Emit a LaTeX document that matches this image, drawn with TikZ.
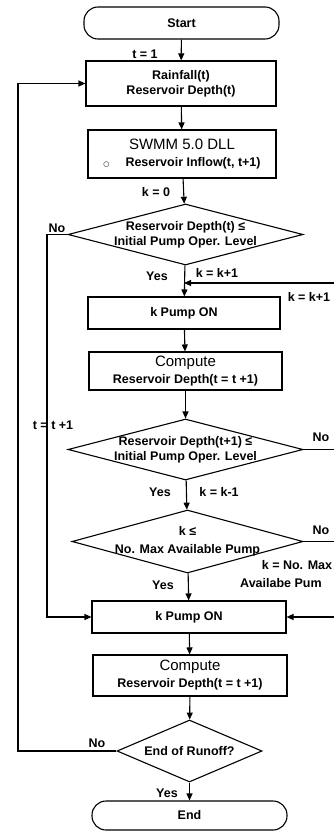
\documentclass[tikz,border=0pt]{standalone}
\usepackage{fontspec}
\setmainfont{Liberation Sans}
\newfontfamily\symfont{DejaVu Sans}
\usetikzlibrary{shapes.geometric,arrows.meta}
\newcommand\smtxt{\fontsize{12.5}{15}\selectfont\bfseries}
\newcommand\lgtxt{\fontsize{15}{18}\selectfont\mdseries}
\tikzset{
  ln/.style={line width=1.1pt},
  arr/.style={ln, -{Triangle[length=7pt,width=6pt]}},
  proc/.style={draw, line width=1.1pt, rectangle, inner sep=0pt, align=center, font=\smtxt},
  term/.style={proc, rounded corners=14pt},
  dec/.style={draw, line width=1.1pt, diamond, inner sep=0pt},
  txt/.style={align=center, font=\smtxt, inner sep=0pt},
  lbl/.style={font=\smtxt, inner sep=0pt},
}
\begin{document}
\begin{tikzpicture}[x=1pt,y=-1pt]
\useasboundingbox (0,0) rectangle (334,832);
% main column
\node[term, minimum width=195pt, minimum height=32pt] (start) at (181.5,23) {Start};
\node[proc, minimum width=190pt, minimum height=45pt] (rain) at (181,83.5) {Rainfall(t)\\Reservoir Depth(t)};
\node[proc, minimum width=188pt, minimum height=48pt] (swmm) at (182,154) {{\lgtxt SWMM 5.0 DLL}\\[2pt]{\symfont\fontsize{7}{7}\selectfont ○}\hspace{16pt}Reservoir Inflow(t, t+1)};
\node[dec, minimum width=235pt, minimum height=61pt] (d1) at (185.5,234.5) {};
\node[txt] (d1t) at (d1) {Reservoir Depth(t) ≤\\Initial Pump Oper. Level};
\node[proc, minimum width=192pt, minimum height=32pt] (kp1) at (184,313) {k Pump ON};
\node[proc, minimum width=193pt, minimum height=38pt] (c1) at (185.5,371) {{\lgtxt Compute}\\[2pt]Reservoir Depth(t = t +1)};
\node[dec, minimum width=235pt, minimum height=61pt] (d2) at (185.5,449.5) {};
\node[txt] (d2t) at (d2) {Reservoir Depth(t+1) ≤\\Initial Pump Oper. Level};
\node[dec, minimum width=231pt, minimum height=63pt] (d3) at (187.5,541.5) {};
\node[txt] (d3t) at (d3) {k ≤\\[3pt]No. Max Available Pump};
\node[proc, minimum width=194pt, minimum height=32pt] (kp2) at (189,617) {k Pump ON};
\node[proc, minimum width=194pt, minimum height=41pt] (c2) at (190,675.5) {{\lgtxt Compute}\\[2pt]Reservoir Depth(t = t +1)};
\node[dec, minimum width=145pt, minimum height=62pt] (d4) at (189.5,751) {};
\node[txt] (d4t) at (d4) {End of Runoff?};
\node[term, minimum width=195pt, minimum height=29pt] (stop) at (189.5,815.5) {End};
% main flow
\draw[arr] (start) -- (rain);
\draw[arr] (rain) -- (swmm);
\draw[arr] (swmm) -- (d1);
\draw[arr] (d1) -- (kp1);
\draw[arr] (kp1) -- (c1);
\draw[arr] (c1) -- (d2);
\draw[arr] (d2) -- (d3);
\draw[arr] (d3) -- (kp2);
\draw[arr] (kp2) -- (c2);
\draw[arr] (c2) -- (d4);
\draw[arr] (d4) -- (stop);
% loops
\coordinate (lo) at (18,0);
\coordinate (li) at (47,0);
\coordinate (r1) at (334,283);
\coordinate (rr) at (334,0);
\draw[arr] (d4.west) -- (d4.west -| lo) |- (rain.west);
\draw[arr] (d1.west) -- (d1.west -| li) |- (kp2.west);
\draw[arr] (r1) -- (r1 -| kp1.north);
\draw[ln] (d2.east) -- (d2.east -| rr);
\draw[ln] (d3.east) -- (d3.east -| rr);
\draw[arr] (rr |- kp2.east) -- (kp2.east);
% labels
\node[lbl] (l1) at (145,54) {t = 1};
\node[lbl] (l2) at (156,192) {k = 0};
\node[lbl] (l3) at (57,228) {No};
\node[lbl] (l4) at (157,276) {Yes};
\node[lbl] (l5) at (217,273) {k = k+1};
\node[lbl] (l6) at (309,297) {k = k+1};
\node[lbl] (l7) at (53,425) {t = t +1};
\node[lbl] (l8) at (321,437) {No};
\node[lbl] (l9) at (160,492) {Yes};
\node[lbl] (l10) at (219,492) {k = k-1};
\node[lbl] (l11) at (321,530) {No};
\node[lbl] (l12) at (297,565) {k = No. Max};
\node[lbl, anchor=west] (l13) at (240,583) {Availabe Pum};
\node[lbl] (l14) at (163,585) {Yes};
\node[lbl] (l15) at (97,743) {No};
\node[lbl] (l16) at (167,793) {Yes};
\end{tikzpicture}
\end{document}
